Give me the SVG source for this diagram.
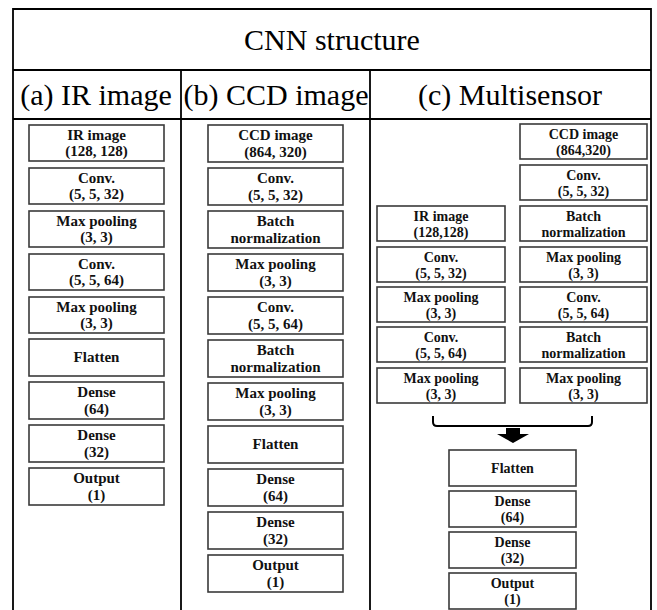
<svg xmlns="http://www.w3.org/2000/svg" width="657" height="610" viewBox="0 0 657 610">
<style>
.tl{stroke:#000;stroke-width:1.8;fill:none}
.hd{font-family:'Liberation Serif',serif;font-size:30px;fill:#000;text-anchor:middle}
.bx{fill:#fff;stroke:#3a3a3a;stroke-width:1.6}
.t{font-family:'Liberation Serif',serif;font-weight:bold;font-size:15px;fill:#111;text-anchor:middle}
.ts{font-family:'Liberation Serif',serif;font-weight:bold;font-size:14px;fill:#111;text-anchor:middle}
</style>
<rect width="657" height="610" fill="#fff"/>
<g id="table">
<path class="tl" d="M13,612 V9 H651 V612"/>
<line class="tl" x1="13" y1="70" x2="651" y2="70"/>
<line class="tl" x1="13" y1="119" x2="651" y2="119"/>
<line class="tl" x1="181" y1="70" x2="181" y2="612"/>
<line class="tl" x1="370" y1="70" x2="370" y2="612"/>
<text class="hd" x="332" y="50" font-size="29">CNN structure</text>
<text class="hd" x="96" y="105">(a) IR image</text>
<text class="hd" x="276" y="105">(b) CCD image</text>
<text class="hd" x="510" y="105">(c) Multisensor</text>
</g>
<!-- column a -->
<g id="a1"><rect class="bx" x="29" y="125" width="135" height="36"/><text class="t" x="96.5" y="140">IR image</text><text class="t" x="96.5" y="156">(128, 128)</text></g>
<g id="a2"><rect class="bx" x="29" y="168" width="135" height="36"/><text class="t" x="96.5" y="183">Conv.</text><text class="t" x="96.5" y="199">(5, 5, 32)</text></g>
<g id="a3"><rect class="bx" x="29" y="211" width="135" height="36"/><text class="t" x="96.5" y="226">Max pooling</text><text class="t" x="96.5" y="242">(3, 3)</text></g>
<g id="a4"><rect class="bx" x="29" y="254" width="135" height="36"/><text class="t" x="96.5" y="269">Conv.</text><text class="t" x="96.5" y="285">(5, 5, 64)</text></g>
<g id="a5"><rect class="bx" x="29" y="297" width="135" height="36"/><text class="t" x="96.5" y="312">Max pooling</text><text class="t" x="96.5" y="328">(3, 3)</text></g>
<g id="a6"><rect class="bx" x="29" y="339" width="135" height="37"/><text class="t" x="96.5" y="362">Flatten</text></g>
<g id="a7"><rect class="bx" x="29" y="382" width="135" height="37"/><text class="t" x="96.5" y="397">Dense</text><text class="t" x="96.5" y="414">(64)</text></g>
<g id="a8"><rect class="bx" x="29" y="425" width="135" height="37"/><text class="t" x="96.5" y="440">Dense</text><text class="t" x="96.5" y="457">(32)</text></g>
<g id="a9"><rect class="bx" x="29" y="468" width="135" height="37"/><text class="t" x="96.5" y="483">Output</text><text class="t" x="96.5" y="500">(1)</text></g>
<!-- column b -->
<g id="b1"><rect class="bx" x="208" y="125" width="135" height="37"/><text class="t" x="275.5" y="140">CCD image</text><text class="t" x="275.5" y="157">(864, 320)</text></g>
<g id="b2"><rect class="bx" x="208" y="168" width="135" height="37"/><text class="t" x="275.5" y="183">Conv.</text><text class="t" x="275.5" y="200">(5, 5, 32)</text></g>
<g id="b3"><rect class="bx" x="208" y="211" width="135" height="37"/><text class="t" x="275.5" y="226">Batch</text><text class="t" x="275.5" y="243">normalization</text></g>
<g id="b4"><rect class="bx" x="208" y="254" width="135" height="37"/><text class="t" x="275.5" y="269">Max pooling</text><text class="t" x="275.5" y="286">(3, 3)</text></g>
<g id="b5"><rect class="bx" x="208" y="297" width="135" height="37"/><text class="t" x="275.5" y="312">Conv.</text><text class="t" x="275.5" y="329">(5, 5, 64)</text></g>
<g id="b6"><rect class="bx" x="208" y="340" width="135" height="37"/><text class="t" x="275.5" y="355">Batch</text><text class="t" x="275.5" y="372">normalization</text></g>
<g id="b7"><rect class="bx" x="208" y="383" width="135" height="37"/><text class="t" x="275.5" y="398">Max pooling</text><text class="t" x="275.5" y="415">(3, 3)</text></g>
<g id="b8"><rect class="bx" x="208" y="426" width="135" height="37"/><text class="t" x="275.5" y="449">Flatten</text></g>
<g id="b9"><rect class="bx" x="208" y="469" width="135" height="37"/><text class="t" x="275.5" y="484">Dense</text><text class="t" x="275.5" y="501">(64)</text></g>
<g id="b10"><rect class="bx" x="208" y="512" width="135" height="37"/><text class="t" x="275.5" y="527">Dense</text><text class="t" x="275.5" y="544">(32)</text></g>
<g id="b11"><rect class="bx" x="208" y="555" width="135" height="37"/><text class="t" x="275.5" y="570">Output</text><text class="t" x="275.5" y="587">(1)</text></g>
<!-- column c right -->
<g id="cr1"><rect class="bx" x="520" y="124" width="127" height="35"/><text class="ts" x="583.5" y="139">CCD image</text><text class="ts" x="583.5" y="155">(864,320)</text></g>
<g id="cr2"><rect class="bx" x="520" y="165" width="127" height="35"/><text class="ts" x="583.5" y="180">Conv.</text><text class="ts" x="583.5" y="196">(5, 5, 32)</text></g>
<g id="cr3"><rect class="bx" x="520" y="206" width="127" height="35"/><text class="ts" x="583.5" y="221">Batch</text><text class="ts" x="583.5" y="237">normalization</text></g>
<g id="cr4"><rect class="bx" x="520" y="247" width="127" height="35"/><text class="ts" x="583.5" y="262">Max pooling</text><text class="ts" x="583.5" y="278">(3, 3)</text></g>
<g id="cr5"><rect class="bx" x="520" y="287" width="127" height="35"/><text class="ts" x="583.5" y="302">Conv.</text><text class="ts" x="583.5" y="318">(5, 5, 64)</text></g>
<g id="cr6"><rect class="bx" x="520" y="327" width="127" height="35"/><text class="ts" x="583.5" y="342">Batch</text><text class="ts" x="583.5" y="358">normalization</text></g>
<g id="cr7"><rect class="bx" x="520" y="368" width="127" height="35"/><text class="ts" x="583.5" y="383">Max pooling</text><text class="ts" x="583.5" y="399">(3, 3)</text></g>
<!-- column c left -->
<g id="cl1"><rect class="bx" x="377" y="206" width="128" height="35"/><text class="ts" x="441" y="221">IR image</text><text class="ts" x="441" y="237">(128,128)</text></g>
<g id="cl2"><rect class="bx" x="377" y="247" width="128" height="35"/><text class="ts" x="441" y="262">Conv.</text><text class="ts" x="441" y="278">(5, 5, 32)</text></g>
<g id="cl3"><rect class="bx" x="377" y="287" width="128" height="35"/><text class="ts" x="441" y="302">Max pooling</text><text class="ts" x="441" y="318">(3, 3)</text></g>
<g id="cl4"><rect class="bx" x="377" y="327" width="128" height="35"/><text class="ts" x="441" y="342">Conv.</text><text class="ts" x="441" y="358">(5, 5, 64)</text></g>
<g id="cl5"><rect class="bx" x="377" y="368" width="128" height="35"/><text class="ts" x="441" y="383">Max pooling</text><text class="ts" x="441" y="399">(3, 3)</text></g>
<!-- column c bottom -->
<g id="cb1"><rect class="bx" x="449" y="450" width="127" height="36"/><text class="ts" x="512.5" y="473">Flatten</text></g>
<g id="cb2"><rect class="bx" x="449" y="491" width="127" height="36"/><text class="ts" x="512.5" y="506">Dense</text><text class="ts" x="512.5" y="522">(64)</text></g>
<g id="cb3"><rect class="bx" x="449" y="532" width="127" height="36"/><text class="ts" x="512.5" y="547">Dense</text><text class="ts" x="512.5" y="563">(32)</text></g>
<g id="cb4"><rect class="bx" x="449" y="573" width="127" height="36"/><text class="ts" x="512.5" y="588">Output</text><text class="ts" x="512.5" y="604">(1)</text></g>
<g id="connectors">
<path d="M433,416 V422 Q433,426 437,426 H588 Q592,426 592,422 V416" fill="none" stroke="#000" stroke-width="2"/>
<polygon points="506,428 520,428 520,434 529,434 513,443 497,434 506,434" fill="#000"/>
</g>
</svg>
